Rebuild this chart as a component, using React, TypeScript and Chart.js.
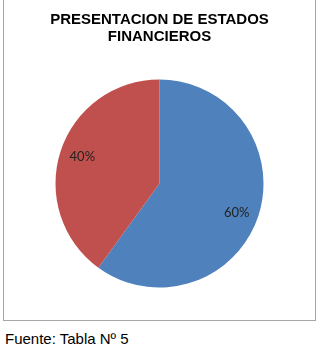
import React, { useEffect, useRef } from "react";
import { Chart, registerables } from "chart.js";

Chart.register(...registerables);

const categories = ["60%", "40%"];
const values = [60, 40];
const colors = ["#4F81BD", "#C0504D"];
const titleLines = ["PRESENTACION DE ESTADOS", "FINANCIEROS"];
const footerText = "Fuente: Tabla Nº 5";

const pctLabels = {
  id: "pctLabels",
  afterDatasetsDraw(chart: any) {
    const ctx = chart.ctx;
    const meta = chart.getDatasetMeta(0);
    const data = chart.data.datasets[0].data as number[];
    const total = data.reduce((a, b) => a + b, 0);
    ctx.save();
    ctx.font = "13px Lato";
    ctx.fillStyle = "#222222";
    ctx.textAlign = "center";
    ctx.textBaseline = "middle";
    meta.data.forEach((arc: any, i: number) => {
      const { x, y, startAngle, endAngle, outerRadius } = arc.getProps(
        ["x", "y", "startAngle", "endAngle", "outerRadius"],
        true
      );
      const mid = (startAngle + endAngle) / 2 + 0.035;
      const r = outerRadius * 0.79;
      const pct = Math.round((data[i] / total) * 100) + "%";
      ctx.fillText(pct, x + Math.cos(mid) * r, y + Math.sin(mid) * r + 1);
    });
    ctx.restore();
  },
};

export default function App() {
  const ref = useRef<HTMLCanvasElement | null>(null);
  useEffect(() => {
    if (!ref.current) return;
    const chart = new Chart(ref.current, {
      type: "pie",
      data: {
        labels: categories,
        datasets: [
          {
            data: values,
            backgroundColor: colors,
            borderWidth: 0,
          },
        ],
      },
      options: {
        animation: false,
        responsive: false,
        radius: 104,
        layout: { padding: { bottom: 6 } },
        plugins: {
          legend: { display: false },
          tooltip: { enabled: false },
          title: {
            display: true,
            text: titleLines,
            color: "#000000",
            font: { family: "'Liberation Sans', Arial", size: 15, weight: "bold", lineHeight: 1.1 },
            padding: { top: 12, bottom: 8 },
          },
        },
      } as any,
      plugins: [pctLabels],
    });
    return () => chart.destroy();
  }, []);

  return (
    <div style={{ position: "absolute", left: 0, top: 0, width: 321, height: 346, background: "#fff", overflow: "hidden" }}>
      <div
        style={{
          position: "absolute",
          left: 3,
          top: -1,
          width: 311,
          height: 320,
          border: "1px solid #A6A6A6",
        }}
      >
        <canvas ref={ref} width={311} height={320} style={{ display: "block", width: 311, height: 320 }} />
      </div>
      <div
        style={{
          position: "absolute",
          left: 5,
          top: 330,
          font: "15px 'Liberation Sans', Arial",
          color: "#000",
          whiteSpace: "nowrap",
          lineHeight: "17px",
        }}
      >
        {footerText}
      </div>
    </div>
  );
}
